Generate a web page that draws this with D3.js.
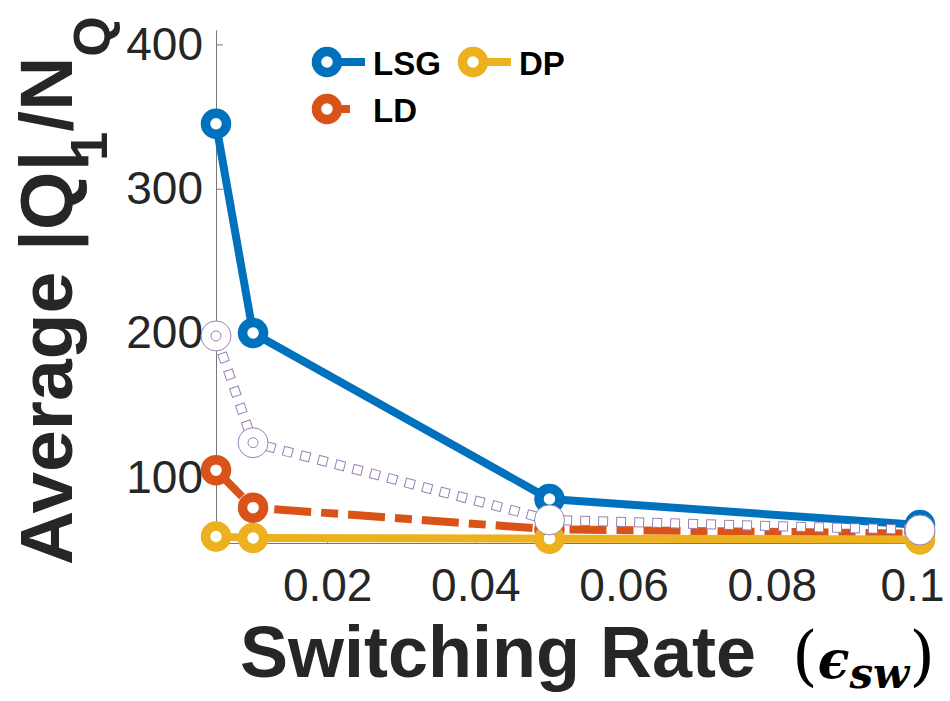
<!DOCTYPE html>
<html>
<head>
<meta charset="utf-8">
<script src="https://cdn.jsdelivr.net/npm/d3@7"></script>
<style>
  body { margin: 0; background: #fff; }
  svg text { font-family: "Liberation Sans", Arial, Helvetica, sans-serif; }
</style>
</head>
<body>
<svg id="chart" width="950" height="701"></svg>
<script>
// values
const rates = [0.005, 0.01, 0.05, 0.1];
const lsgVals = [345, 200, 85, 67];
const ldVals = [105, 79, 64, 61];
const dpVals = [59, 58, 57.5, 57];
const dottedVals = [198, 124, 70.5, 63.5]; // faint dotted series, not in legend
const yTickVals = [100, 200, 300, 400];
const xTickVals = [0.02, 0.04, 0.06, 0.08, 0.1];
const xTickLabels = ["0.02", "0.04", "0.06", "0.08", "0.1"];

const width = 950;
const height = 701;
const margin = {top: 30, right: 30, bottom: 158, left: 216};

const svg = d3.select("#chart");

const x = d3.scaleLinear()
    .domain([0.005, 0.1])
    .range([margin.left, width - margin.right]);

const y = d3.scaleLinear()
    .domain([54.5, 410])
    .range([height - margin.bottom, margin.top]);

// axes (ticks point inward, like matlab)
const xAxis = svg.append("g")
    .attr("transform", `translate(0, ${height - margin.bottom})`)
    .call(d3.axisBottom(x)
        .tickValues(xTickVals)
        .tickFormat((d, i) => xTickLabels[i])
        .tickSizeInner(-7)
        .tickSizeOuter(0)
        .tickPadding(25));

const yAxis = svg.append("g")
    .attr("transform", `translate(${margin.left}, 0)`)
    .call(d3.axisLeft(y)
        .tickValues(yTickVals)
        .tickSizeInner(-7)
        .tickSizeOuter(0)
        .tickPadding(13));

[xAxis, yAxis].forEach(g => {
    g.select(".domain").attr("stroke", "#777").attr("stroke-width", 1);
    g.selectAll(".tick line").attr("stroke", "#777");
    g.selectAll(".tick text")
        .attr("fill", "#262626")
        .style("font-size", "46px");
});
// last label sits right at the edge, pull it in a bit so it stays readable
xAxis.selectAll(".tick text").filter(d => d === 0.1).attr("dx", -8);

const line = d3.line()
    .x((d, i) => x(rates[i]))
    .y(d => y(d));

const blue = "#0072BD";
const orange = "#D95319";
const yellow = "#EDB120";
const purple = "#9a80b4";

function drawSeries(vals, color, dash) {
    svg.append("path")
        .datum(vals)
        .attr("fill", "none")
        .attr("stroke", color)
        .attr("stroke-width", 8)
        .attr("stroke-dasharray", dash)
        .attr("d", line);
    svg.selectAll(null)
        .data(vals)
        .enter()
        .append("circle")
        .attr("cx", (d, i) => x(rates[i]))
        .attr("cy", d => y(d))
        .attr("r", 10.5)
        .attr("fill", "#fff")
        .attr("stroke", color)
        .attr("stroke-width", 9.5);
}

drawSeries(lsgVals, blue, null);
drawSeries(ldVals, orange, "37 10 17 10");
drawSeries(dpVals, yellow, null);

// dotted series drawn as hollow little squares
svg.append("path")
    .datum(dottedVals)
    .attr("fill", "none")
    .attr("stroke", purple)
    .attr("stroke-width", 10)
    .attr("stroke-dasharray", "10 8")
    .attr("d", line);
svg.append("path")
    .datum(dottedVals)
    .attr("fill", "none")
    .attr("stroke", "#fff")
    .attr("stroke-width", 8)
    .attr("stroke-dasharray", "8 10")
    .attr("stroke-dashoffset", -1)
    .attr("d", line);
svg.selectAll(".dotMark")
    .data(dottedVals)
    .enter()
    .append("circle")
    .attr("class", "dotMark")
    .attr("cx", (d, i) => x(rates[i]))
    .attr("cy", d => y(d))
    .attr("r", 15)
    .attr("fill", "#fff")
    .attr("stroke", purple)
    .attr("stroke-width", 1);
svg.selectAll(".dotInner")
    .data(dottedVals.slice(0, 2))
    .enter()
    .append("circle")
    .attr("class", "dotInner")
    .attr("cx", (d, i) => x(rates[i]))
    .attr("cy", d => y(d))
    .attr("r", 5)
    .attr("fill", "none")
    .attr("stroke", purple)
    .attr("stroke-width", 1);

// legend
const legend = [
    {name: "LSG", color: blue, x: 327, y: 62, dash: null},
    {name: "DP", color: yellow, x: 473, y: 62, dash: null},
    {name: "LD", color: orange, x: 327, y: 109, dash: "22 8 8 100"}
];
legend.forEach(l => {
    svg.append("line")
        .attr("x1", l.x - 15).attr("x2", l.x + 38)
        .attr("y1", l.y).attr("y2", l.y)
        .attr("stroke", l.color)
        .attr("stroke-width", 8)
        .attr("stroke-dasharray", l.dash);
    svg.append("circle")
        .attr("cx", l.x).attr("cy", l.y)
        .attr("r", 10.5)
        .attr("fill", "#fff")
        .attr("stroke", l.color)
        .attr("stroke-width", 9.5);
    svg.append("text")
        .attr("x", l.x + 46)
        .attr("y", l.y + 13)
        .attr("fill", "#000")
        .style("font-size", "33px")
        .style("font-weight", "bold")
        .text(l.name);
});

// axis titles
const yTitle = svg.append("text")
    .attr("transform", "translate(72, 565) rotate(-90)")
    .attr("fill", "#262626")
    .style("font-size", "75px")
    .style("font-weight", "bold");
yTitle.append("tspan").text("Average |Q|");
yTitle.append("tspan").attr("dy", 35).attr("dx", -10).style("font-size", "52px").text("1");
yTitle.append("tspan").attr("dy", -35).text("/N");
yTitle.append("tspan").attr("dy", 38).style("font-size", "52px").text("Q");

svg.append("text")
    .attr("x", 240)
    .attr("y", 677)
    .attr("fill", "#262626")
    .style("font-size", "72px")
    .style("font-weight", "bold")
    .text("Switching Rate");

const epsLabel = svg.append("text")
    .attr("x", 792)
    .attr("y", 678)
    .attr("fill", "#000")
    .style("font-family", "'DejaVu Serif', 'Liberation Serif', serif");
epsLabel.append("tspan").style("font-size", "66px").text("(");
epsLabel.append("tspan").style("font-size", "52px").style("font-style", "italic").style("font-weight", "bold").text("\u03F5");
epsLabel.append("tspan").attr("dy", 10).style("font-size", "42px").style("font-style", "italic").style("font-weight", "bold").text("sw");
epsLabel.append("tspan").attr("dy", -10).style("font-size", "66px").text(")");
</script>
</body>
</html>
